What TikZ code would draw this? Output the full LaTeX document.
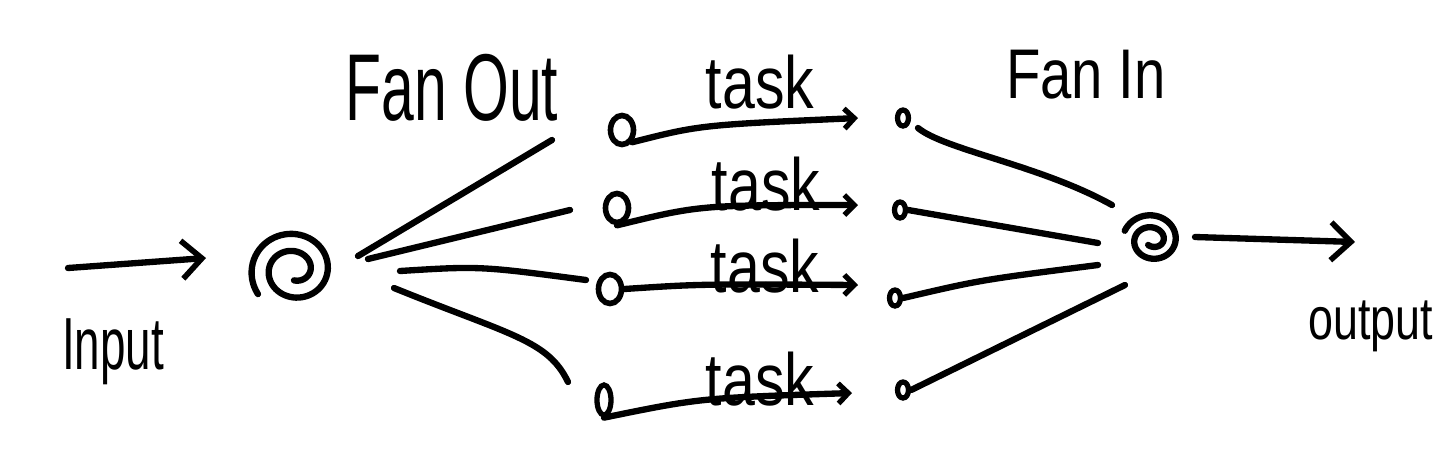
\documentclass[tikz,border=0pt]{standalone}
\usepackage{fontspec}
\setmainfont{Liberation Sans}
\usepackage{graphicx}
\usetikzlibrary{arrows.meta, positioning, shapes.geometric}
% narrow, tall letters, closer to the hand-written ones
\newcommand{\narrow}[2]{\scalebox{#1}[1]{#2}}
\tikzset{
  pen/.style={line width=1.8pt, line cap=round, line join=round},
  flow/.style={pen, -{Straight Barb[length=0.2cm, width=0.38cm, line width=1.6pt]}},
  job/.style={pen, -{Straight Barb[length=0.1cm, width=0.2cm, line width=1.5pt]}},
  knot/.style={ellipse, draw, line width=1.6pt, minimum width=0.23cm, minimum height=0.29cm, inner sep=0pt},
  pip/.style={ellipse, draw, line width=1.5pt, minimum width=0.11cm, minimum height=0.16cm, inner sep=0pt},
  hand/.style={inner sep=0pt, font=\fontsize{#1}{#1}\selectfont},
}
\begin{document}
\begin{tikzpicture}[x=0.01cm, y=-0.01cm]
  \useasboundingbox (0,0) rectangle (1441,454);

  % the two whirls: split point and merge point
  \coordinate (split) at (294,270);
  \coordinate (merge) at (1152,240);
  \draw[pen] plot[domain=-215:450, samples=120, smooth]
    ({294 + (44 - (\x+215)/21)*cos(\x)}, {270 + (42 - (\x+215)/21)*sin(\x)});
  \draw[pen] plot[domain=-160:480, samples=100, smooth]
    ({1152 + (29 - (\x+160)/30)*cos(\x)}, {240 + (27 - (\x+160)/30)*sin(\x)});

  % input / output
  \coordinate (in0) at (68,268);
  \coordinate (in1) at (206,258);
  \draw[flow] (in0) -- (in1);
  \node[hand=21] (input) at (113,352) {\narrow{0.62}{Input}};
  \coordinate (out0) at (1195,237);
  \coordinate (out1) at (1355,242);
  \draw[flow] (out0) -- (out1);
  \node[hand=17] (output) at (1371,326) {\narrow{0.75}{output}};

  \node[hand=27] (fanout) at (452,88) {\narrow{0.62}{Fan Out}};
  \node[hand=20] (fanin) at (1086,75) {\narrow{0.8}{Fan In}};

  % task start and end points
  \node[knot] (s1) at (622,130) {};
  \node[knot] (s2) at (617,208) {};
  \node[knot] (s3) at (610,289) {};
  \node[pip, minimum width=0.14cm, minimum height=0.3cm] (s4) at (604,400) {};
  \node[pip] (e1) at (903,118) {};
  \node[pip] (e2) at (900,210) {};
  \node[pip] (e3) at (895,298) {};
  \node[pip] (e4) at (903,390) {};

  % fan out
  \coordinate (f1) at (552,140);
  \coordinate (f2) at (570,210);
  \coordinate (f3) at (586,280);
  \coordinate (f4) at (568,382);
  \draw[pen] (358,256) coordinate (o1) -- (f1);
  \draw[pen] (368,259) coordinate (o2) -- (f2);
  \draw[pen] (400,271) coordinate (o3) .. controls (480,266) .. (f3);
  \draw[pen] (394,288) coordinate (o4) .. controls (510,335) and (548,340) .. (f4);

  % tasks
  \draw[job] (s1.south east) .. controls (700,125) .. (858,118);
  \draw[job] (s2.south) .. controls (700,205) .. (858,205);
  \draw[job] (s3.east) .. controls (700,284) .. (858,285);
  \draw[job] (s4.south) .. controls (700,398) .. (852,393);
  \node[hand=21] (t1) at (760,82) {\narrow{0.8}{task}};
  \node[hand=21] (t2) at (766,184) {\narrow{0.8}{task}};
  \node[hand=21] (t3) at (765,266) {\narrow{0.8}{task}};
  \node[hand=21] (t4) at (760,379) {\narrow{0.8}{task}};

  % fan in
  \coordinate (m1) at (1112,205);
  \coordinate (m2) at (1098,243);
  \coordinate (m3) at (1098,265);
  \coordinate (m4) at (1125,285);
  \draw[pen] (918,128) coordinate (i1) .. controls (945,150) and (1040,165) .. (m1);
  \draw[pen] (e2.east) -- (m2);
  \draw[pen] (e3.east) .. controls (980,280) .. (m3);
  \draw[pen] (e4.east) -- (m4);
\end{tikzpicture}
\end{document}
